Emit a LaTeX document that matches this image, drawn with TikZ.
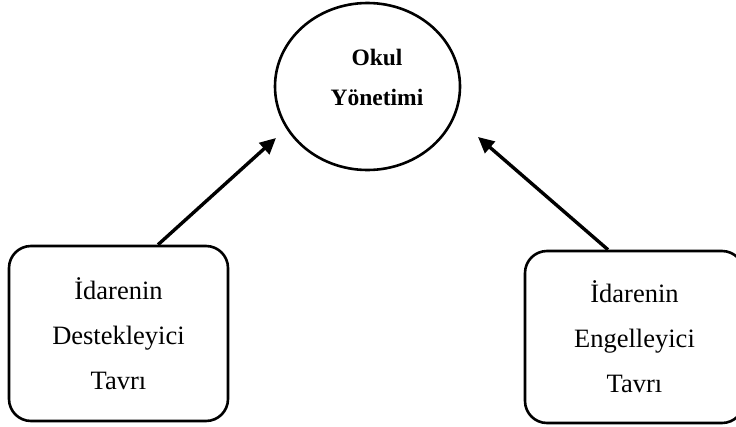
\documentclass[tikz,border=0pt]{standalone}
\usepackage{fontspec}
\setmainfont{Liberation Serif}
\usetikzlibrary{shapes.geometric,arrows.meta}
\begin{document}
\begin{tikzpicture}[x=1pt,y=-1pt,
  attbox/.style={draw,line width=2.6pt,rounded corners=22pt,minimum width=219pt,
    align=center,font=\fontsize{26.5pt}{45pt}\selectfont},
  topic/.style={draw,ellipse,line width=2.6pt,minimum width=185pt,minimum height=167pt},
  topictext/.style={align=center,font=\fontsize{23.5pt}{40pt}\selectfont\bfseries},
  link/.style={line width=3.4pt,-{Triangle[length=16pt,width=15pt]}}]
\useasboundingbox (0,0) rectangle (736,426);
% central ellipse and its label
\node[topic] (E) at (367.5,86.5) {};
\node[topictext] (Et) at (377,77) {Okul\\Yönetimi};
% the two attitude boxes
\node[attbox,minimum height=175pt] (L) at (118.5,333.5) {İdarenin\\Destekleyici\\Tavrı};
\node[attbox,minimum height=172pt] (R) at (634.5,337) {İdarenin\\Engelleyici\\Tavrı};
% arrow tips near the ellipse
\coordinate (tipL) at (276,138);
\coordinate (tipR) at (478,137);
\draw[link] ([xshift=39.5pt]L.north) -- (tipL);
\draw[link] ([xshift=-26.5pt]R.north) -- (tipR);
\end{tikzpicture}
\end{document}
